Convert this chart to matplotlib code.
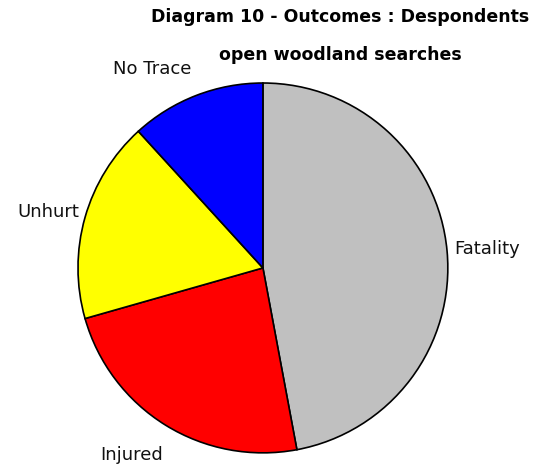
import matplotlib
matplotlib.use("Agg")
import matplotlib.pyplot as plt
from matplotlib.transforms import offset_copy

labels = ["Fatality", "Injured", "Unhurt", "No Trace"]
counts = [8, 4, 3, 2]
colors = ["#C0C0C0", "#FF0000", "#FFFF00", "#0000FF"]
# small label nudges in pixels (dx, dy), to match where the original puts them
nudges = [(-11, 0), (7, -14), (12, 0), (2, 9)]

fig = plt.figure(figsize=(5.52, 4.68), dpi=100)
ax = fig.add_axes([0.1413, 0.032, 0.670, 0.791])

wedges, texts = ax.pie(counts, labels=labels, colors=colors, startangle=90,
                       counterclock=False, labeldistance=1.1,
                       wedgeprops={"edgecolor": "black", "linewidth": 1.2},
                       textprops={"fontsize": 13, "color": "#111111"})
ax.set_xlim(-1, 1)
ax.set_ylim(-1, 1)
ax.set_aspect("equal")

for t, (dx, dy) in zip(texts, nudges):
    t.set_transform(offset_copy(ax.transData, fig, dx, dy, units="dots"))

fig.text(340 / 552, 1 - 17 / 468, "Diagram 10 - Outcomes : Despondents",
         ha="center", va="center", fontsize=12.5, fontweight="bold")
fig.text(340 / 552, 1 - 55 / 468, "open woodland searches",
         ha="center", va="center", fontsize=12.5, fontweight="bold")

fig.savefig("out.png", dpi=100)
